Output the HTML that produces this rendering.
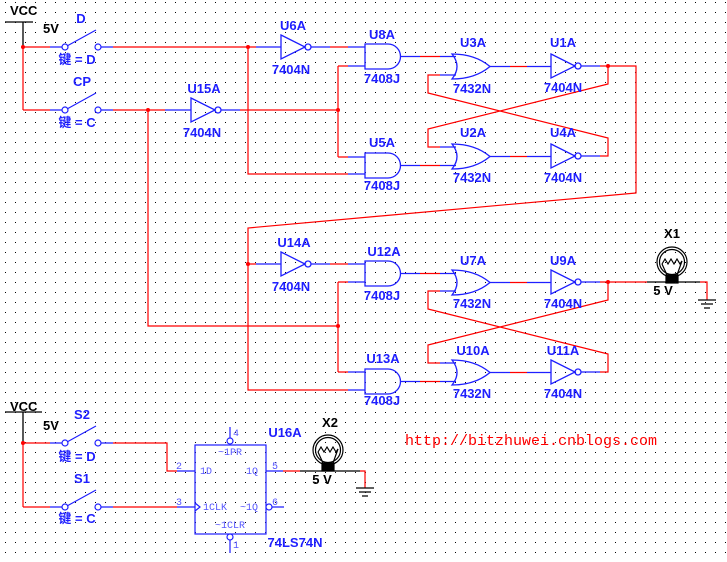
<!DOCTYPE html>
<html><head><meta charset="utf-8"><style>
html,body{margin:0;padding:0;background:#fff}
svg{display:block}
.l{font:bold 13px "Liberation Sans","Noto Sans CJK SC",sans-serif;fill:#1f1fff;text-anchor:middle}
.k{font:bold 13px "Liberation Sans",sans-serif;fill:#000}
.p{font:10px "Liberation Mono",monospace;fill:#5555ff}
</style></head><body>
<svg width="727" height="562" viewBox="0 0 727 562" xmlns="http://www.w3.org/2000/svg">
<defs>
<pattern id="g" width="10" height="10" patternUnits="userSpaceOnUse"><rect x="5" y="2" width="1" height="1" fill="#000"/></pattern>
<path id="and" d="M0,0 H23 A12.5,12.5 0 0 1 23,25 H0 Z" fill="none" stroke="#1f1fff" stroke-width="1.3"/>
<path id="or" d="M-3,0 Q7,12.5 -3,25 Q20,25 35,12.5 Q20,0 -3,0 Z" fill="none" stroke="#1f1fff" stroke-width="1.3"/>
<g id="inv" fill="none" stroke="#1f1fff" stroke-width="1.3"><path d="M0,-12 L24,0 L0,12 Z"/><circle cx="27" cy="0" r="3"/></g>
<g id="lamp" fill="none" stroke="#000" stroke-width="1.2"><circle cx="0" cy="0" r="15"/><circle cx="0" cy="0" r="12.5"/><path d="M-10,2 L-7,-3 L-4,2 L-1,-3 L2,2 L5,-3 L8,2 L10,-1"/><path d="M-10,2 L-5,13 M10,-1 L5,13"/><rect x="-6" y="13" width="12" height="8" fill="#000"/></g>
<g id="gnd" stroke="#000" stroke-width="1.2"><path d="M-9,0 H9 M-6,4 H6 M-3,8 H3"/></g>
<g id="sw" fill="none" stroke="#1f1fff" stroke-width="1.2"><circle cx="0" cy="0" r="3" fill="#fff"/><circle cx="33" cy="0" r="3" fill="#fff"/><path d="M2,-1 L31,-17"/></g>
</defs>
<rect width="727" height="562" fill="url(#g)"/>

<!-- black wires -->
<g stroke="#000" stroke-width="1.3" fill="none">
<path d="M5,22 H33 M23,22 V47"/>
<path d="M5,412 H42 M23,412 V443"/>
<path d="M647,282 H700 M300,471 H360"/>
</g>

<!-- red wires -->
<g stroke="#f00" stroke-width="1.2" fill="none">
<path d="M23,47 V110 M23,47 H50 M23,110 H50"/>
<path d="M113,47 H256 M330,47 H348"/>
<path d="M113,110 H165 M240,110 H338"/>
<path d="M338,66 V157 M338,66 H348 M338,157 H348"/>
<path d="M248,47 V174 H348"/>
<path d="M148,110 V326 H338 M338,282 V372 M338,282 H348 M338,372 H348"/>
<path d="M420,56.5 H440 M420,165.5 H440 M420,273.5 H440 M420,381.5 H440"/>
<path d="M510,66.5 H527 M510,156.5 H527 M510,282.5 H527 M510,372.5 H527"/>
<path d="M600,66 H636 V193 L248,228 V390 H348"/>
<path d="M608,66 V84 L428,129 V147 H440"/>
<path d="M600,156 H608 V138 L428,93 V75 H440"/>
<path d="M248,264 H256 M330,264 H348"/>
<path d="M600,282 H647 M700,282 H707 V300"/>
<path d="M608,282 V300 L428,345 V363 H440"/>
<path d="M600,372 H608 V354 L428,309 V291 H440"/>
<path d="M23,443 V507 M23,443 H50 M23,507 H50"/>
<path d="M113,443 H167 V471 H177 M113,507 H177"/>
<path d="M283,471 H300 M360,471 H365 V488"/>
</g>

<!-- blue wires -->
<g stroke="#1f1fff" stroke-width="1.2" fill="none">
<path d="M50,47 H63 M100,47 H113 M50,110 H63 M100,110 H113 M50,443 H63 M100,443 H113 M50,507 H63 M100,507 H113"/>
<path d="M256,47 H281 M311,47 H330 M348,47 H365 M348,66 H365 M348,157 H365 M348,174 H365"/>
<path d="M165,110 H191 M221,110 H240"/>
<path d="M400,56.5 H420 M440,56.5 H456 M400,165.5 H420 M440,165.5 H456 M400,273.5 H420 M440,273.5 H456 M400,381.5 H420 M440,381.5 H456"/>
<path d="M440,75 H456 M440,147 H456 M440,291 H456 M440,363 H456"/>
<path d="M490,66.5 H510 M527,66.5 H551 M490,156.5 H510 M527,156.5 H551 M490,282.5 H510 M527,282.5 H551 M490,372.5 H510 M527,372.5 H551"/>
<path d="M581,66 H600 M581,156 H600 M581,282 H600 M581,372 H600"/>
<path d="M256,264 H281 M311,264 H330 M348,264 H365 M348,282 H365 M348,372 H365 M348,390 H365"/>
<path d="M177,471 H195 M177,507 H195 M266,471 H283 M272,507 H284 M230,427 V438 M230,540 V553"/>
</g>

<!-- switches -->
<use href="#sw" x="65" y="47"/><use href="#sw" x="65" y="110"/>
<use href="#sw" x="65" y="443"/><use href="#sw" x="65" y="507"/>

<!-- gates -->
<use href="#inv" x="281" y="47"/><use href="#inv" x="191" y="110"/>
<use href="#inv" x="551" y="66"/><use href="#inv" x="551" y="156"/>
<use href="#inv" x="281" y="264"/><use href="#inv" x="551" y="282"/><use href="#inv" x="551" y="372"/>
<use href="#and" x="365" y="44"/><use href="#and" x="365" y="153"/>
<use href="#and" x="365" y="261"/><use href="#and" x="365" y="369"/>
<use href="#or" x="455" y="54"/><use href="#or" x="455" y="144"/>
<use href="#or" x="455" y="270"/><use href="#or" x="455" y="360"/>

<!-- lamps, grounds -->
<use href="#lamp" x="672" y="262"/><use href="#gnd" x="707" y="300"/>
<use href="#lamp" x="328" y="450"/><use href="#gnd" x="365" y="488"/>

<!-- flip flop -->
<g fill="none" stroke="#1f1fff" stroke-width="1.2">
<rect x="195" y="445" width="71" height="89"/>
<circle cx="230" cy="441" r="3" fill="#fff"/><circle cx="230" cy="537" r="3" fill="#fff"/>
<circle cx="269" cy="507" r="3" fill="#fff"/>
<path d="M195,503 L200,507 L195,511"/>
</g>
<text class="p" x="230" y="455" text-anchor="middle">~1PR</text>
<text class="p" x="200" y="474">1D</text>
<text class="p" x="246" y="474">1Q</text>
<text class="p" x="203" y="510">1CLK</text>
<text class="p" x="240" y="510">~1Q</text>
<text class="p" x="230" y="528" text-anchor="middle">~1CLR</text>
<text class="p" x="233" y="436">4</text><text class="p" x="176" y="469">2</text>
<text class="p" x="176" y="505">3</text><text class="p" x="272" y="469">5</text>
<text class="p" x="272" y="505">6</text><text class="p" x="233" y="548">1</text>

<!-- junctions -->
<g fill="#f00">
<circle cx="23" cy="47" r="2"/><circle cx="248" cy="47" r="2"/><circle cx="148" cy="110" r="2"/>
<circle cx="338" cy="110" r="2"/><circle cx="608" cy="66" r="2"/><circle cx="248" cy="264" r="2"/>
<circle cx="338" cy="326" r="2"/><circle cx="608" cy="282" r="2"/><circle cx="23" cy="443" r="2"/>
</g>

<!-- labels -->
<text class="k" x="10" y="15">VCC</text><text class="k" x="43" y="33">5V</text>
<text class="k" x="10" y="411">VCC</text><text class="k" x="43" y="430">5V</text>
<text class="l" x="81" y="23">D</text><text class="l" x="77" y="64">键 = D</text>
<text class="l" x="82" y="86">CP</text><text class="l" x="77" y="127">键 = C</text>
<text class="l" x="82" y="419">S2</text><text class="l" x="77" y="461">键 = D</text>
<text class="l" x="82" y="483">S1</text><text class="l" x="77" y="523">键 = C</text>

<text class="l" x="293" y="30">U6A</text><text class="l" x="291" y="74">7404N</text>
<text class="l" x="204" y="93">U15A</text><text class="l" x="202" y="137">7404N</text>
<text class="l" x="382" y="39">U8A</text><text class="l" x="382" y="83">7408J</text>
<text class="l" x="473" y="47">U3A</text><text class="l" x="472" y="93">7432N</text>
<text class="l" x="563" y="47">U1A</text><text class="l" x="563" y="92">7404N</text>
<text class="l" x="382" y="147">U5A</text><text class="l" x="382" y="190">7408J</text>
<text class="l" x="473" y="137">U2A</text><text class="l" x="472" y="182">7432N</text>
<text class="l" x="563" y="137">U4A</text><text class="l" x="563" y="182">7404N</text>
<text class="l" x="294" y="247">U14A</text><text class="l" x="291" y="291">7404N</text>
<text class="l" x="384" y="256">U12A</text><text class="l" x="382" y="300">7408J</text>
<text class="l" x="473" y="265">U7A</text><text class="l" x="472" y="308">7432N</text>
<text class="l" x="563" y="265">U9A</text><text class="l" x="563" y="308">7404N</text>
<text class="l" x="383" y="363">U13A</text><text class="l" x="382" y="405">7408J</text>
<text class="l" x="473" y="355">U10A</text><text class="l" x="472" y="398">7432N</text>
<text class="l" x="563" y="355">U11A</text><text class="l" x="563" y="398">7404N</text>
<text class="k" x="672" y="238" text-anchor="middle">X1</text>
<text class="k" x="663" y="295" text-anchor="middle">5 V</text>
<text class="l" x="285" y="437">U16A</text><text class="l" x="295" y="547">74LS74N</text>
<text class="k" x="330" y="427" text-anchor="middle">X2</text>
<text class="k" x="322" y="484" text-anchor="middle">5 V</text>
<text x="405" y="445" font-family="Liberation Mono, monospace" font-size="15" fill="#f00">http://bitzhuwei.cnblogs.com</text>
</svg>
</body></html>
